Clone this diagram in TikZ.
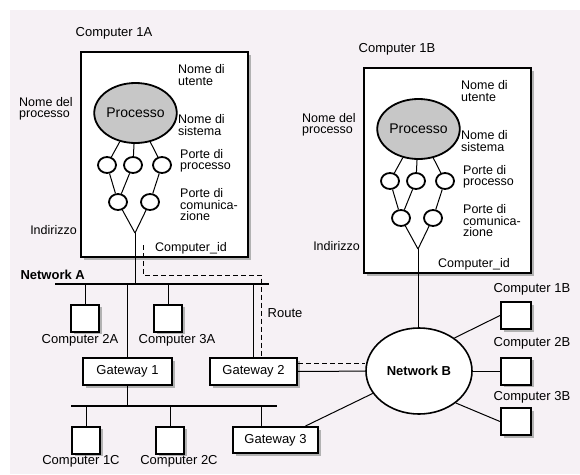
\documentclass[tikz,border=0pt]{standalone}
\usepackage{fontspec}
\setmainfont{Liberation Sans}
\usetikzlibrary{shapes.geometric,shadows}
\definecolor{sfondo}{RGB}{246,241,245}

\begin{document}
\begin{tikzpicture}[x=1pt,y=-1pt,
    font=\fontsize{13}{13}\selectfont,
    ombra/.style={drop shadow={shadow xshift=2.5pt,shadow yshift=-2.5pt,fill=black!30,opacity=1}},
    scatola/.style={draw,line width=2pt,fill=white,ombra,inner sep=0pt},
    pc/.style={scatola,minimum width=28pt,minimum height=27pt},
    gw/.style={scatola,minimum width=87pt,minimum height=27pt},
    proc/.style={ellipse,draw,line width=1.8pt,fill=black!22,minimum width=71pt,minimum height=60pt,inner sep=0pt,font=\fontsize{14}{14}\selectfont},
    porta/.style={ellipse,draw,line width=1.8pt,fill=white,minimum width=18pt,minimum height=16pt,inner sep=0pt},
    rete/.style={ellipse,draw,line width=1.6pt,fill=white,minimum width=106pt,minimum height=86pt,font=\fontsize{13}{13}\selectfont\bfseries},
    bus/.style={line width=2.8pt},
    filo/.style={line width=1pt},
    et/.style={align=left,inner sep=0pt,anchor=west,font=\fontsize{12.5}{11.5}\selectfont},
  ]
  \fill[sfondo] (10,10) rectangle (580,474);
  \useasboundingbox (0,0) rectangle (580,474);

  % computer 1A e 1B
  \foreach \c/\dx/\dy in {A/0/0,B/283/16}{
    \begin{scope}[shift={(\dx,\dy)}]
      \node[scatola,minimum width=167pt,minimum height=205pt] (box\c) at (164.5,154.5) {};
      \node (tit\c) at (114,33) {Computer 1\c};
      \node[proc] (proc\c) at (135.5,113) {Processo};
      \node[porta] (pp\c1) at (107,165) {};
      \node[porta] (pp\c2) at (133,165) {};
      \node[porta] (pp\c3) at (162,165) {};
      \node[porta] (pc\c1) at (118,202) {};
      \node[porta] (pc\c2) at (150,202) {};
      \coordinate (vtx\c) at (135,233);
      \draw[filo] (proc\c) -- (pp\c1);
      \draw[filo] (proc\c) -- (pp\c2);
      \draw[filo] (proc\c) -- (pp\c3);
      \draw[filo] (pp\c1) -- (pc\c1);
      \draw[filo] (pp\c2) -- (pc\c1);
      \draw[filo] (pp\c3) -- (pc\c2);
      \draw[filo] (pc\c1) -- (vtx\c);
      \draw[filo] (pc\c2) -- (vtx\c);
      \node[et] (ut\c) at (178,75) {Nome di\\utente};
      \node[et] (si\c) at (178,125) {Nome di\\sistema};
      \node[et] (po\c) at (180,161) {Porte di\\processo};
      \node[et] (co\c) at (180,205) {Porte di\\comunica-\\zione};
      \node[et] (np\c) at (19,109) {Nome del\\processo};
      \node[et,anchor=east] (in\c) at (77,230) {Indirizzo};
      \node[et] (id\c) at (155,248) {Computer\_id};
    \end{scope}
  }

  % Network A
  \coordinate (busAw) at (55,284);
  \coordinate (busAe) at (269,284);
  \draw[bus] (busAw) -- (busAe);
  \node[anchor=west,font=\fontsize{13}{13}\selectfont\bfseries] (retA) at (17,275) {Network A};
  \draw[filo] (vtxA) -- (vtxA |- busAw);

  \node[pc] (c2A) at (85,318) {};
  \node (lc2A) at (80,340) {Computer 2A};
  \draw[filo] (c2A) -- (c2A |- busAw);
  \node[pc] (c3A) at (168,318) {};
  \node (lc3A) at (177,340) {Computer 3A};
  \draw[filo] (c3A) -- (c3A |- busAw);

  \node[gw,minimum width=89pt] (gw1) at (127.5,371.5) {Gateway 1};
  \draw[filo] (gw1) -- (gw1 |- busAw);
  \node[gw] (gw2) at (253.5,371.5) {Gateway 2};
  \draw[filo] (gw2.north) -- (gw2.north |- busAw);

  % route
  \coordinate (route) at (143,245);
  \draw[filo,dash pattern=on 5pt off 3pt] (route) -- ++(0,30) -| ([xshift=8pt]gw2.north);
  \node (lroute) at (285,313) {Route};

  % rete C
  \coordinate (busCw) at (71,406);
  \coordinate (busCe) at (277,406);
  \draw[bus] (busCw) -- (busCe);
  \draw[filo] (gw1) -- (gw1 |- busCw);
  \node[pc] (c1C) at (86,440) {};
  \node (lc1C) at (81,461) {Computer 1C};
  \draw[filo] (c1C) -- (c1C |- busCw);
  \node[pc] (c2C) at (170,440) {};
  \node (lc2C) at (179,461) {Computer 2C};
  \draw[filo] (c2C) -- (c2C |- busCw);
  \node[gw,minimum width=85pt,minimum height=26pt] (gw3) at (275.5,440) {Gateway 3};
  \draw[filo] ([xshift=-14.5pt]gw3.north) -- ([xshift=-14.5pt]gw3.north |- busCw);

  % Network B
  \node[rete] (netB) at (419,371) {Network B};
  \draw[filo] (vtxB) -- (vtxB |- netB.north);
  \draw[filo] (gw2) -- (netB);
  \draw[filo,dash pattern=on 5pt off 3pt] ([yshift=8pt]gw2.east) -- ([yshift=8pt]gw2.east -| netB.west);
  \draw[filo] (gw3.25) -- (netB);

  \node[pc,minimum width=30pt] (c1B) at (516,315.5) {};
  \node (lc1B) at (532,289) {Computer 1B};
  \draw[filo] (netB.43) -- (c1B.west);
  \node[pc,minimum width=30pt] (c2B) at (516,371) {};
  \node (lc2B) at (532,343) {Computer 2B};
  \draw[filo] (netB) -- (c2B);
  \node[pc,minimum width=30pt] (c3B) at (516,421.5) {};
  \node (lc3B) at (532,397) {Computer 3B};
  \draw[filo] (netB.-41) -- (c3B.west);
\end{tikzpicture}
\end{document}
